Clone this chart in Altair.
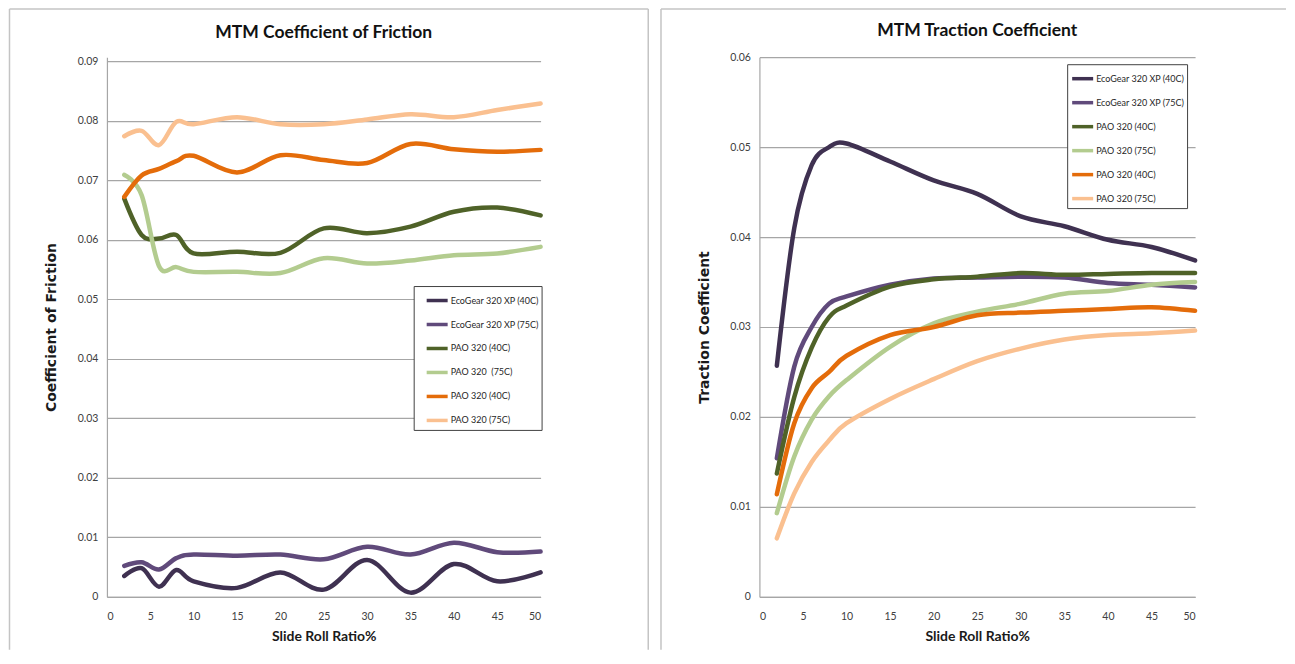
import json
import altair as alt
import pandas as pd

# ---------------- data ----------------
x_vals = [2, 4, 6, 8, 10, 15, 20, 25, 30, 35, 40, 45, 50]

cof_names = ["EcoGear 320 XP (40C)", "EcoGear 320 XP (75C)", "PAO 320 (40C)",
             "PAO 320\u00a0 (75C)", "PAO 320 (40C)", "PAO 320 (75C)"]
tc_names = ["EcoGear 320 XP (40C)", "EcoGear 320 XP (75C)", "PAO 320 (40C)",
            "PAO 320 (75C)", "PAO 320 (40C)", "PAO 320 (75C)"]

cof_eco40 = [0.0035, 0.0048, 0.0017, 0.0045, 0.0026, 0.0015, 0.0041, 0.0012, 0.0062, 0.0007, 0.0055, 0.0026, 0.0041]
cof_eco75 = [0.0052, 0.0058, 0.0046, 0.0065, 0.0071, 0.0069, 0.0071, 0.0063, 0.0084, 0.0071, 0.0091, 0.0075, 0.0076]
cof_pao40g = [0.0669, 0.0608, 0.0602, 0.0608, 0.0577, 0.0580, 0.0578, 0.0619, 0.0611, 0.0622, 0.0647, 0.0654, 0.0641]
cof_pao75g = [0.0709, 0.0675, 0.0556, 0.0554, 0.0546, 0.0546, 0.0544, 0.0569, 0.0560, 0.0565, 0.0574, 0.0577, 0.0588]
cof_pao40o = [0.0672, 0.0708, 0.0719, 0.0732, 0.0741, 0.0713, 0.0742, 0.0734, 0.0729, 0.0761, 0.0752, 0.0748, 0.0751]
cof_pao75o = [0.0774, 0.0783, 0.0759, 0.0798, 0.0794, 0.0806, 0.0794, 0.0794, 0.0802, 0.0811, 0.0806, 0.0818, 0.0829]

tc_eco40 = [0.0257, 0.0410, 0.0480, 0.0500, 0.0504, 0.0484, 0.0463, 0.0448, 0.0423, 0.0412, 0.0397, 0.0389, 0.0374]
tc_eco75 = [0.0154, 0.0256, 0.0300, 0.0326, 0.0334, 0.0347, 0.0354, 0.0355, 0.0356, 0.0355, 0.0349, 0.0347, 0.0344]
tc_pao40g = [0.0137, 0.0222, 0.0277, 0.0311, 0.0324, 0.0345, 0.0353, 0.0356, 0.0360, 0.0358, 0.0359, 0.0360, 0.0360]
tc_pao75g = [0.0093, 0.0156, 0.0197, 0.0223, 0.0241, 0.0278, 0.0304, 0.0317, 0.0326, 0.0337, 0.0340, 0.0347, 0.0350]
tc_pao40o = [0.0114, 0.0193, 0.0232, 0.0250, 0.0268, 0.0291, 0.0300, 0.0313, 0.0316, 0.0318, 0.0320, 0.0322, 0.0318]
tc_pao75o = [0.0065, 0.0115, 0.0150, 0.0174, 0.0193, 0.0220, 0.0242, 0.0262, 0.0276, 0.0286, 0.0291, 0.0293, 0.0296]

colors = ["#3F3151", "#604A7B", "#4F6228", "#B3CC8F", "#E46C0A", "#FAC090"]
x_ticks = [0, 5, 10, 15, 20, 25, 30, 35, 40, 45, 50]
cof_ticks = [0, 0.01, 0.02, 0.03, 0.04, 0.05, 0.06, 0.07, 0.08, 0.09]
tc_ticks = [0, 0.01, 0.02, 0.03, 0.04, 0.05, 0.06]

NARROW = "Lato"
GRID = "#A6A6A6"
FRAME = "#C4C4C4"
PLOT_H = 540


def long_df(series, keys):
    rows = []
    for k, vals in zip(keys, series):
        for xv, yv in zip(x_vals, vals):
            rows.append({"x": xv, "y": yv, "s": k, "o": keys.index(k)})
    return pd.DataFrame(rows)


def panel(series, names, ticks, ymax, title, title_y, ytitle, width, height,
          legend_x, legend_y, sym_off, pad_nbsp, ytitle_pad, frame_left,
          frame_top, frame_right, frame_bottom, right_line):
    keys = [f"k{i}" for i in range(len(names))]
    df = long_df(series, keys)
    label_expr = (f"{json.dumps(names)}[indexof({json.dumps(keys)}, datum.label)]"
                  f" + '{chr(160) * pad_nbsp}'")
    lines = alt.Chart(df).mark_line(
        strokeWidth=4.5, interpolate="cardinal", tension=0, strokeCap="round"
    ).encode(
        x=alt.X("x:Q", scale=alt.Scale(domain=[0, 50], nice=False),
                axis=alt.Axis(values=x_ticks, grid=False, ticks=False,
                              domainColor=GRID, domainWidth=1.2,
                              labelFont=NARROW, labelFontSize=10.5,
                              labelColor="#404040", labelPadding=15,
                              title="Slide Roll Ratio%", titleFont=NARROW,
                              titleFontSize=14, titleFontWeight="bold",
                              titleColor="#1a1a1a", titlePadding=7)),
        y=alt.Y("y:Q", scale=alt.Scale(domain=[0, ymax], nice=False),
                axis=alt.Axis(values=ticks, grid=True, gridColor=GRID,
                              gridWidth=1.2, ticks=False, domainColor=GRID,
                              domainWidth=1.2, labelFont=NARROW,
                              labelFontSize=10.5, labelColor="#404040",
                              labelPadding=9,
                              labelExpr="datum.value == 0 ? '0' : format(datum.value, '.2f')",
                              title=ytitle, titleFont="DejaVu Sans",
                              titleFontSize=14, titleFontWeight="bold",
                              titleColor="#1a1a1a", titlePadding=ytitle_pad)),
        color=alt.Color("s:N", scale=alt.Scale(domain=keys, range=colors),
                        legend=alt.Legend(
                            orient="none", legendX=legend_x, legendY=legend_y,
                            title=None, symbolType="stroke", symbolSize=441,
                            symbolStrokeWidth=3.5, labelFont=NARROW,
                            labelFontSize=9, labelColor="#262626",
                            labelOffset=1, rowPadding=4, padding=2,
                            symbolOffset=sym_off, strokeColor="#404040",
                            fillColor="white", labelExpr=label_expr,
                            labelLimit=300)),
        order=alt.Order("o:Q"),
    )
    one = alt.Data(values=[{"a": 1}])
    frame_l = alt.Chart(one).mark_rule(color=FRAME, strokeWidth=1.5).encode(
        x=alt.value(frame_left), y=alt.value(frame_top), y2=alt.value(frame_bottom))
    frame_t = alt.Chart(one).mark_rule(color=FRAME, strokeWidth=1.5).encode(
        x=alt.value(frame_left), x2=alt.value(frame_right), y=alt.value(frame_top))
    head = alt.Chart(one).mark_text(
        font=NARROW, fontSize=17.5, fontWeight="bold", color="#111111",
        align="center", baseline="alphabetic"
    ).encode(x=alt.value(width / 2), y=alt.value(title_y), text=alt.value(title))
    layers = [frame_l, frame_t, head]
    if right_line:
        frame_r = alt.Chart(one).mark_rule(color=FRAME, strokeWidth=1.5).encode(
            x=alt.value(frame_right), y=alt.value(frame_top), y2=alt.value(frame_bottom))
        layers.append(frame_r)
    return alt.layer(lines, *layers).properties(width=width, height=height)


# the left plot's 0.09 gridline sits 4px below the shared plot top
left = panel([cof_eco40, cof_eco75, cof_pao40g, cof_pao75g, cof_pao40o, cof_pao75o],
             cof_names, cof_ticks, 0.09 * PLOT_H / 536, "MTM Coefficient of Friction", -19,
             "Coefficient of Friction", 434, PLOT_H,
             307, 229, 9, 3, 19,
             -97.5, -48.25, 541.75, 593, True)

right = panel([tc_eco40, tc_eco75, tc_pao40g, tc_pao75g, tc_pao40o, tc_pao75o],
              tc_names, tc_ticks, 0.06, "MTM Traction Coefficient", -21,
              "Traction Coefficient", 436, PLOT_H,
              308, 7, 1, 0, 18,
              -98.5, -48.25, 527, 593, False)

chart = alt.hconcat(left, right, spacing=10).resolve_scale(
    color="independent").resolve_legend(color="independent").properties(
    padding=0, background="white"
).configure_view(stroke=None)

chart.save("out.html", embed_options={"renderer": "svg", "actions": False})
